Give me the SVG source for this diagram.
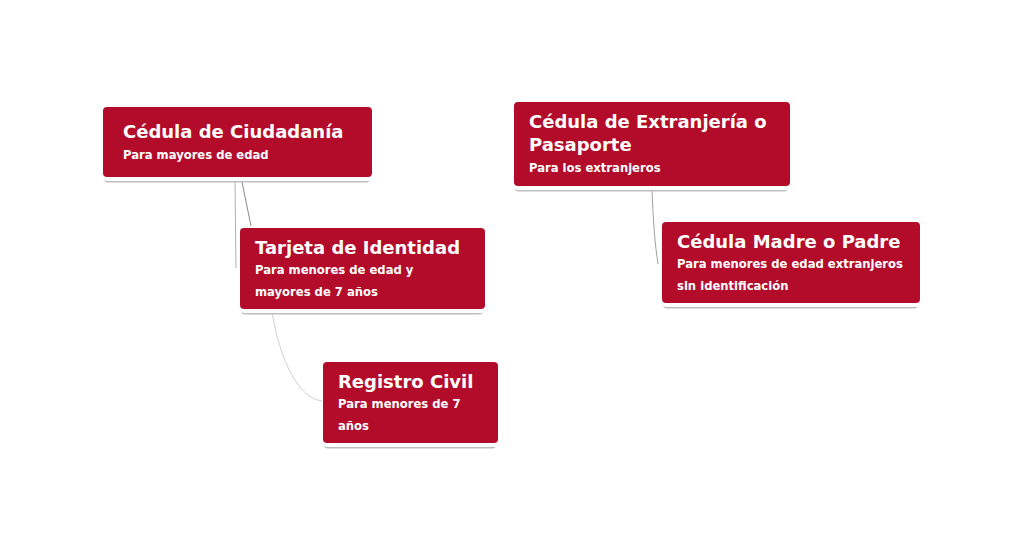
<svg xmlns="http://www.w3.org/2000/svg" width="1023" height="548" viewBox="0 0 1023 548">
<style>
.sh{fill:#bdbdbd}
.wb{fill:#ffffff}
.bx{fill:#b30c2b}
.t{font-family:"DejaVu Sans",Verdana,sans-serif;font-weight:bold;font-size:18px;fill:#ffffff}
.s{font-family:"DejaVu Sans",Verdana,sans-serif;font-weight:bold;font-size:11.6px;fill:#ffffff}
.c{fill:none;stroke-width:1}
</style>
<rect width="1023" height="548" fill="#ffffff"/>
<g id="connectors">
<path class="c" d="M235,182 L236,268" stroke="#b0b0b0"/>
<path class="c" d="M242,182 L251,226" stroke="#8a8a8a"/>
<path class="c" d="M272,312 C280,360 298,398 322,401" stroke="#d0d0d0"/>
<path class="c" d="M652,188 C653,220 655,245 658,264" stroke="#a0a0a0" stroke-width="1.3"/>
</g>
<g id="node-ciudadania">
<rect class="sh" x="104" y="110" width="266" height="72.5" rx="4"/>
<rect class="wb" x="102" y="106" width="271" height="75" rx="5"/>
<rect class="bx" x="103" y="107" width="269" height="70" rx="4"/>
<text class="t" x="123" y="138">Cédula de Ciudadanía</text>
<text class="s" x="123" y="159">Para mayores de edad</text>
</g>
<g id="node-tarjeta">
<rect class="sh" x="241" y="231" width="242" height="83.5" rx="4"/>
<rect class="wb" x="239" y="227" width="247" height="86" rx="5"/>
<rect class="bx" x="240" y="228" width="245" height="81" rx="4"/>
<text class="t" x="255" y="254">Tarjeta de Identidad</text>
<text class="s" x="255" y="274">Para menores de edad y</text>
<text class="s" x="255" y="296">mayores de 7 años</text>
</g>
<g id="node-registro">
<rect class="sh" x="324" y="365" width="172" height="83.5" rx="4"/>
<rect class="wb" x="322" y="361" width="177" height="86" rx="5"/>
<rect class="bx" x="323" y="362" width="175" height="81" rx="4"/>
<text class="t" x="338" y="388">Registro Civil</text>
<text class="s" x="338" y="408">Para menores de 7</text>
<text class="s" x="338" y="430">años</text>
</g>
<g id="node-extranjeria">
<rect class="sh" x="515" y="105" width="273" height="86.5" rx="4"/>
<rect class="wb" x="513" y="101" width="278" height="89" rx="5"/>
<rect class="bx" x="514" y="102" width="276" height="84" rx="4"/>
<text class="t" x="529" y="128">Cédula de Extranjería o</text>
<text class="t" x="529" y="151">Pasaporte</text>
<text class="s" x="529" y="172">Para los extranjeros</text>
</g>
<g id="node-madre">
<rect class="sh" x="663" y="225" width="255" height="83.5" rx="4"/>
<rect class="wb" x="661" y="221" width="260" height="86" rx="5"/>
<rect class="bx" x="662" y="222" width="258" height="81" rx="4"/>
<text class="t" x="677" y="248">Cédula Madre o Padre</text>
<text class="s" x="677" y="268">Para menores de edad extranjeros</text>
<text class="s" x="677" y="290">sin identificación</text>
</g>
</svg>
